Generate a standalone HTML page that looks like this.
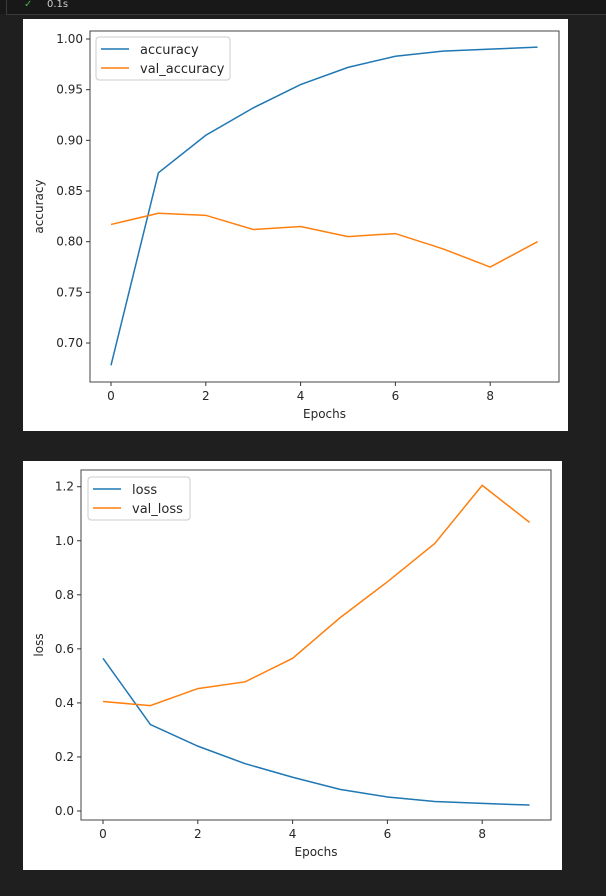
<!DOCTYPE html>
<html><head><meta charset="utf-8"><style>
html,body{margin:0;padding:0;background:#1f1f1f;width:606px;height:896px;overflow:hidden}
svg text{font-family:"DejaVu Sans","Liberation Sans",sans-serif;fill:#262626}
</style></head><body>
<svg id="s" width="606" height="896" xmlns="http://www.w3.org/2000/svg">
<rect x="0" y="0" width="606" height="14" fill="#181818"/>
<line x1="6.5" y1="0" x2="6.5" y2="14" stroke="#3a3a3a"/>
<line x1="6" y1="14.5" x2="606" y2="14.5" stroke="#3a3a3a"/>
<text x="24" y="7" font-size="10" style="fill:#4caf50">✓</text>
<text x="47" y="7" font-size="10" style="fill:#cccccc">0.1s</text>
<rect x="23" y="19" width="545" height="412" fill="#fff"/>
<rect x="23" y="461" width="539" height="409" fill="#fff"/>
<g id="c1"></g><g id="c2"></g>
</svg>
<script>
const epochs=[0,1,2,3,4,5,6,7,8,9];
const accuracy=[0.678,0.868,0.905,0.932,0.955,0.972,0.983,0.988,0.990,0.992];
const valAccuracy=[0.817,0.828,0.826,0.812,0.815,0.805,0.808,0.793,0.775,0.800];
const loss=[0.565,0.32,0.24,0.175,0.125,0.08,0.052,0.035,0.028,0.022];
const valLoss=[0.405,0.39,0.453,0.478,0.565,0.715,0.848,0.99,1.205,1.068];
const xTicks=[0,2,4,6,8];
const accTicks=[0.70,0.75,0.80,0.85,0.90,0.95,1.00];
const lossTicks=[0.0,0.2,0.4,0.6,0.8,1.0,1.2];
const NS="http://www.w3.org/2000/svg";
function mk(p,t,a){const e=document.createElementNS(NS,t);for(const k in a)e.setAttribute(k,a[k]);p.appendChild(e);return e;}
function chart(g,o){
  const sx=v=>o.x0+(v-o.xv0)*o.xs, sy=v=>o.y0-(v-o.yv0)*o.ys;
  o.series.forEach((s,i)=>{
    const pl=mk(g,'polyline',{points:s.d.map((v,j)=>sx(epochs[j])+','+sy(v)).join(' '),fill:'none',stroke:s.c,'stroke-width':1.5});
    
    
  });
  const fr=mk(g,'rect',{x:o.L,y:o.T,width:o.R-o.L,height:o.B-o.T,fill:'none',stroke:'#444','stroke-width':1});
  
  
  xTicks.forEach(t=>{
    const x=sx(t);
    mk(g,'line',{x1:x,y1:o.B,x2:x,y2:o.B+4,stroke:'#333'});
    const tx=mk(g,'text',{x:x,y:o.B+18,'font-size':12,'text-anchor':'middle'});tx.textContent=t;
    
    
  });
  o.yt.forEach(t=>{
    const y=sy(t);
    mk(g,'line',{x1:o.L-4,y1:y,x2:o.L,y2:y,stroke:'#333'});
    const tx=mk(g,'text',{x:o.L-7,y:y+4,'font-size':12,'text-anchor':'end'});tx.textContent=t.toFixed(o.dp);
    
    
  });
  const xl=mk(g,'text',{x:(o.L+o.R)/2,y:o.B+36,'font-size':12,'text-anchor':'middle'});xl.textContent='Epochs';
  
  
  const yc=(o.T+o.B)/2;
  const yl=mk(g,'text',{x:o.yx,y:yc,'font-size':12,'text-anchor':'middle',transform:'rotate(-90 '+o.yx+' '+yc+')'});yl.textContent=o.ylab;
  
  
  const lg=mk(g,'rect',{x:o.lx,y:o.ly,width:o.lw,height:43,rx:3,fill:'#fff','fill-opacity':0.8,stroke:'#ccc'});
  
  
  o.series.forEach((s,i)=>{
    const y=o.ly+12+i*19;
    mk(g,'line',{x1:o.lx+5,y1:y,x2:o.lx+33,y2:y,stroke:s.c,'stroke-width':1.5});
    const t=mk(g,'text',{x:o.lx+44,y:y+5,'font-size':13});t.textContent=s.n;
    
    
  });
}
chart(document.getElementById('c1'),{L:90,R:559,T:31,B:382,x0:111,xv0:0,xs:47.4,y0:39,yv0:1.0,ys:50.67/0.05,yt:accTicks,dp:2,ylab:'accuracy',yx:43,lx:96,ly:37,lw:134,
 series:[{d:accuracy,c:'#1f77b4',n:'accuracy'},{d:valAccuracy,c:'#ff7f0e',n:'val_accuracy'}]});
chart(document.getElementById('c2'),{L:81,R:551,T:470,B:820,x0:103,xv0:0,xs:47.4,y0:811,yv0:0,ys:54.05/0.2,yt:lossTicks,dp:1,ylab:'loss',yx:43,lx:88,ly:477,lw:102,
 series:[{d:loss,c:'#1f77b4',n:'loss'},{d:valLoss,c:'#ff7f0e',n:'val_loss'}]});
</script>
</body></html>
